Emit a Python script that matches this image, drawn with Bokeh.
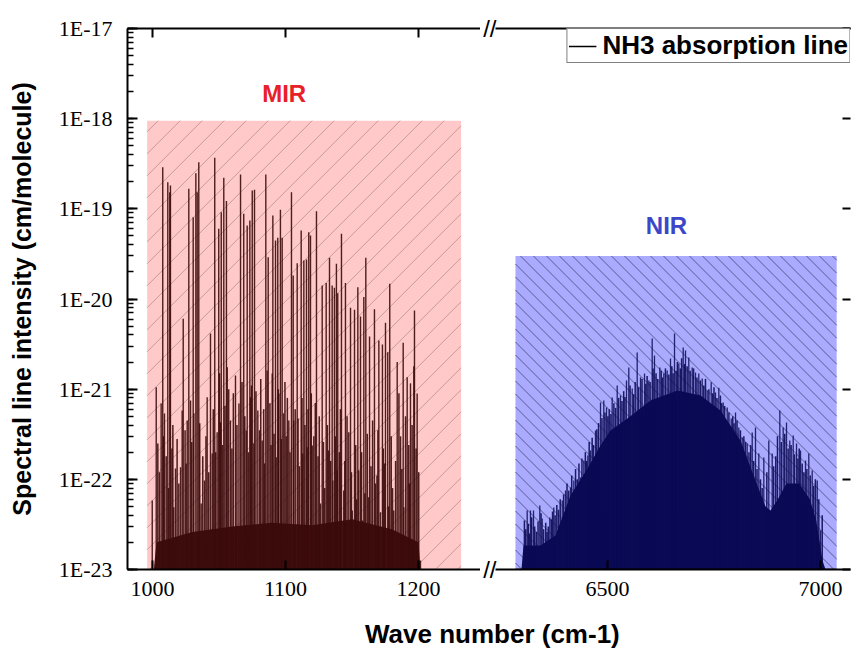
import math
from bokeh.plotting import figure
from bokeh.models import (Range1d, FixedTicker, CustomJSTickFormatter, LinearAxis, LogAxis,
                          Label, Legend, LegendItem, Div)
from bokeh.layouts import row, column
from bokeh.embed import file_html
from bokeh.resources import INLINE

# ---------------- data ----------------
Y_MIN, Y_MAX = 1e-23, 1e-17
mir_ticks = [1000, 1100, 1200]
nir_ticks = [6500, 7000]

# shaded spectral regions (wave number span, upper intensity)
mir_region = [996, 1232]
mir_region_top = 9.5e-19
nir_region = [6284, 7038]
nir_region_top = 3.0e-20

# MIR absorption lines (wave number cm-1, intensity cm/molecule) - strong lines
mir_wn = [999.8, 1002.8, 1006.5, 1007.7, 1009.0, 1011.5, 1013.0, 1013.5, 1016.0, 1017.3,
          1021.1, 1022.3, 1023.1, 1026.1, 1027.3, 1028.6, 1030.6, 1031.1, 1032.6, 1033.6,
          1034.8, 1036.6, 1039.1, 1041.1, 1043.6, 1044.9, 1046.8, 1048.6, 1049.8, 1051.1,
          1051.7, 1053.6, 1055.6, 1056.2, 1058.6, 1062.4, 1065.0, 1066.2, 1068.6, 1070.5,
          1071.2, 1073.2, 1073.7, 1075.0, 1076.2, 1076.7, 1079.2, 1082.5, 1085.2, 1086.2,
          1087.0, 1090.0, 1090.5, 1092.5, 1093.0, 1094.2, 1095.0, 1096.2, 1097.5, 1098.7,
          1102.5, 1104.5, 1105.8, 1106.2, 1108.8, 1109.5, 1111.8, 1113.0, 1113.8, 1115.8,
          1116.3, 1117.5, 1118.8, 1120.1, 1123.3, 1126.3, 1127.6, 1130.6, 1132.3, 1133.1,
          1135.1, 1135.6, 1136.8, 1138.3, 1138.9, 1139.3, 1142.1, 1143.8, 1145.1, 1147.6,
          1148.9, 1150.2, 1151.9, 1154.4, 1155.1, 1156.4, 1158.0, 1158.9, 1160.4, 1162.6,
          1163.2, 1166.9, 1167.7, 1170.2, 1171.4, 1172.9, 1174.5, 1175.2, 1176.9, 1178.4,
          1181.4, 1184.0, 1188.5, 1189.0, 1191.5, 1194.0, 1196.5, 1197.0, 1199.0, 1201.5]
mir_int = [5.82e-23, 1.05e-21, 6.93e-22, 2.90e-19, 5.37e-22, 1.97e-19, 1.53e-19, 1.82e-19, 4.91e-23, 1.32e-22,
           1.36e-22, 5.81e-22, 6.04e-21, 4.50e-22, 1.67e-19, 7.49e-22, 8.07e-20, 5.37e-22, 2.48e-19, 1.53e-19,
           3.29e-19, 5.40e-23, 9.7e-23, 8.15e-22, 4.14e-21, 1.94e-22, 3.68e-19, 3.33e-22, 6.01e-20, 4.30e-22,
           9.18e-20, 2.21e-19, 1.22e-19, 1.75e-21, 4.50e-22, 1.42e-21, 6.93e-22, 2.40e-19, 8.81e-20, 3.48e-22,
           6.53e-20, 7.43e-20, 8.15e-22, 1.60e-19, 2.50e-22, 1.63e-19, 5.81e-22, 2.70e-22, 2.40e-19, 1.61e-21,
           2.91e-20, 1.49e-21, 8.44e-20, 4.46e-20, 1.76e-22, 4.77e-20, 8.95e-22, 9.76e-20, 4.77e-20, 5.37e-22,
           4.50e-22, 1.53e-19, 1.82e-20, 4.50e-22, 2.49e-20, 4.73e-22, 5.75e-20, 1.94e-22, 2.67e-20, 2.75e-20,
           2.27e-22, 5.51e-20, 5.06e-20, 2.37e-22, 9.42e-20, 5.40e-23, 1.41e-20, 1.50e-20, 2.09e-22, 2.86e-20,
           1.41e-20, 9.7e-23, 1.33e-20, 2.46e-20, 1.25e-22, 1.16e-20, 5.29e-20, 7.52e-23, 1.50e-20, 3.33e-22,
           7.98e-21, 4.52e-23, 7.59e-21, 1.35e-20, 1.25e-22, 6.40e-21, 3.50e-23, 1.05e-20, 2.86e-20, 6.34e-23,
           3.84e-21, 7.71e-21, 9.0e-23, 3.47e-21, 4.32e-23, 3.13e-21, 1.50e-22, 5.45e-21, 2.57e-21, 1.48e-20,
           4.52e-23, 2.0e-21, 3.27e-21, 4.91e-23, 1.36e-21, 1.16e-21, 1.8e-21, 7.46e-21, 8.95e-22, 1.26e-23]

# MIR weaker lines filling the lower band
mir_weak_wn = [1004.0, 1005.2, 1008.2, 1010.3, 1012.0, 1014.6, 1015.3, 1018.5, 1019.8, 1024.5,
               1025.3, 1029.5, 1035.5, 1037.8, 1040.2, 1042.3, 1045.7, 1047.5, 1050.4, 1052.6,
               1054.5, 1057.3, 1059.7, 1060.8, 1063.5, 1067.3, 1069.4, 1072.2, 1074.4, 1077.8,
               1080.5, 1081.4, 1083.6, 1084.3, 1088.3, 1089.1, 1091.4, 1094.6, 1096.9, 1099.6,
               1100.5, 1101.4, 1103.4, 1107.3, 1110.5, 1112.4, 1114.6, 1117.0, 1119.4, 1121.3,
               1122.4, 1124.5, 1125.4, 1128.5, 1129.5, 1131.5, 1134.0, 1137.5, 1140.5, 1141.3,
               1144.6, 1146.3, 1149.6, 1152.8, 1153.5, 1157.2, 1159.7, 1161.5, 1164.3, 1165.5,
               1168.8, 1169.5, 1173.6, 1177.6, 1179.5, 1180.5, 1182.8, 1185.3, 1186.5, 1187.5,
               1190.3, 1192.7, 1193.3, 1195.2, 1198.2, 1200.2]
mir_weak_int = [2.5e-22, 1.2e-22, 3.0e-22, 1.8e-22, 8e-23, 2.2e-22, 4e-22, 2.8e-22, 9e-23, 3.5e-22,
                1.5e-22, 2.6e-22, 4.2e-22, 1.8e-22, 3.0e-22, 1.2e-22, 6e-22, 2.0e-22, 1.5e-21, 2.4e-22,
                6.5e-22, 1.0e-21, 2.2e-22, 9e-22, 4.0e-22, 1.2e-21, 5e-22, 2.0e-22, 1.1e-21, 9.5e-22,
                3.5e-22, 1.3e-21, 6e-22, 1.5e-22, 7e-22, 2.4e-22, 3.2e-22, 1.0e-21, 2.8e-22, 1.2e-21,
                3.0e-22, 8e-22, 2.0e-22, 6e-22, 1.4e-22, 8e-22, 4e-22, 6e-22, 9e-22, 3.0e-22,
                7e-22, 1.8e-22, 5e-22, 2.6e-22, 8e-23, 4e-22, 1.6e-22, 3.0e-22, 2.0e-22, 6e-22,
                1.6e-22, 5e-22, 1.2e-22, 2.4e-22, 6e-23, 2.0e-22, 7e-23, 3.2e-22, 1.4e-22, 4.5e-22,
                1.1e-22, 3.5e-22, 2.2e-22, 5e-23, 3.0e-22, 8e-23, 1.6e-22, 9e-22, 3.0e-22, 1.3e-22,
                5e-22, 2.4e-22, 9e-23, 4e-22, 2.2e-22, 1.2e-22]

# MIR weak-line continuum (upper edge of the dense dark band)
mir_base_wn = [1001.0, 1003.0, 1030.0, 1060.0, 1090.0, 1120.0, 1150.0, 1180.0, 1200.0, 1201.5]
mir_base_int = [1.0e-23, 2.0e-23, 2.6e-23, 3.0e-23, 3.3e-23, 3.1e-23, 3.6e-23, 2.8e-23, 2.0e-23, 1.0e-23]

# NIR absorption lines (strongest lines)
nir_wn = [6311.5, 6319.2, 6326.3, 6341.1, 6346.7, 6364.6, 6373.9, 6393.7, 6401.4, 6413.1,
          6420.9, 6436.6, 6444.4, 6453.8, 6460.1, 6471.8, 6483.6, 6491.3, 6497.7, 6511.0,
          6522.8, 6530.5, 6544.6, 6550.0, 6558.0, 6569.7, 6577.5, 6586.9, 6596.9, 6604.9,
          6610.3, 6622.8, 6632.2, 6640.1, 6647.9, 6657.3, 6667.4, 6677.7, 6683.1, 6690.8,
          6698.8, 6706.6, 6714.3, 6722.3, 6734.0, 6743.4, 6753.5, 6761.3, 6771.6, 6781.0,
          6790.4, 6800.5, 6808.2, 6816.2, 6827.9, 6839.7, 6847.4, 6855.2, 6866.9, 6878.6,
          6886.6, 6904.5, 6912.4, 6920.2, 6927.9, 6935.9, 6943.7, 6953.1, 6964.8, 6972.5,
          6980.5, 6992.3, 7000.0]
nir_int = [4.51e-23, 4.51e-23, 4.51e-23, 5.13e-23, 3.68e-23, 3.78e-23, 4.88e-23, 5.82e-23, 7.52e-23, 8.12e-23,
           9.7e-23, 1.05e-22, 1.62e-22, 1.84e-22, 2.09e-22, 3.48e-22, 7.11e-22, 7.49e-22, 6.27e-22, 8.09e-22,
           1.10e-21, 8.51e-22, 1.25e-21, 1.74e-21, 1.02e-21, 2.55e-21, 1.35e-21, 1.49e-21, 1.25e-21, 3.65e-21,
           2.36e-21, 1.74e-21, 1.49e-21, 1.61e-21, 2.19e-21, 4.14e-21, 1.93e-21, 2.90e-21, 2.69e-21, 2.25e-21,
           1.74e-21, 1.53e-21, 1.49e-21, 1.31e-21, 9.67e-22, 1.19e-21, 9.19e-22, 1.04e-21, 7.11e-22, 6.27e-22,
           4.73e-22, 5.51e-22, 3.76e-22, 2.91e-22, 2.50e-22, 3.31e-22, 3.76e-22, 1.94e-22, 1.75e-22, 2.70e-22,
           1.94e-22, 5.81e-22, 3.76e-22, 4.27e-22, 2.70e-22, 3.06e-22, 2.50e-22, 2.09e-22, 1.62e-22, 1.94e-22,
           1.25e-22, 9.7e-23, 2.71e-23]

# NIR medium lines (jagged top of the dense band)
nir_mid_wn = [6305, 6308, 6314, 6317, 6322, 6329, 6333, 6337, 6344, 6350,
              6355, 6358, 6361, 6368, 6371, 6377, 6381, 6385, 6389, 6397,
              6405, 6409, 6416, 6425, 6429, 6433, 6440, 6448, 6451, 6457,
              6464, 6467, 6475, 6479, 6487, 6494, 6501, 6504, 6508, 6515,
              6519, 6526, 6534, 6538, 6541, 6553, 6561, 6565, 6573, 6581,
              6590, 6593, 6600, 6607, 6614, 6618, 6626, 6629, 6636, 6644,
              6651, 6654, 6661, 6664, 6671, 6674, 6681, 6687, 6694, 6702,
              6710, 6718, 6726, 6730, 6738, 6747, 6750, 6757, 6765, 6768,
              6775, 6785, 6794, 6797, 6804, 6812, 6820, 6824, 6832, 6836,
              6843, 6851, 6859, 6863, 6874, 6890, 6895, 6899, 6908, 6916,
              6924, 6931, 6939, 6947, 6950, 6957, 6961, 6968, 6976, 6984,
              6988, 6996, 7004]
nir_mid_int = [3.5e-23, 2.8e-23, 3.2e-23, 2.5e-23, 3.8e-23, 3.0e-23, 2.6e-23, 3.4e-23, 4.2e-23, 2.8e-23,
               3.3e-23, 2.6e-23, 3.0e-23, 3.6e-23, 4.4e-23, 4.0e-23, 5.2e-23, 4.6e-23, 6.0e-23, 6.8e-23,
               9.0e-23, 7.5e-23, 1.1e-22, 1.3e-22, 1.0e-22, 1.5e-22, 1.7e-22, 2.0e-22, 1.6e-22, 2.6e-22,
               2.9e-22, 2.4e-22, 3.6e-22, 4.2e-22, 4.8e-22, 5.5e-22, 5.0e-22, 6.0e-22, 5.3e-22, 7.0e-22,
               6.2e-22, 8.0e-22, 7.4e-22, 9.5e-22, 8.2e-22, 1.1e-21, 8.8e-22, 1.2e-21, 1.05e-21, 1.3e-21,
               1.15e-21, 1.4e-21, 1.2e-21, 1.7e-21, 1.5e-21, 1.3e-21, 1.6e-21, 1.35e-21, 1.7e-21, 1.45e-21,
               1.8e-21, 1.5e-21, 1.6e-21, 2.0e-21, 1.7e-21, 2.2e-21, 1.9e-21, 1.8e-21, 1.6e-21, 1.7e-21,
               1.35e-21, 1.25e-21, 1.1e-21, 1.3e-21, 1.0e-21, 9.0e-22, 1.05e-21, 8.0e-22, 8.5e-22, 7.0e-22,
               6.5e-22, 5.5e-22, 5.0e-22, 4.2e-22, 4.5e-22, 3.5e-22, 3.0e-22, 2.6e-22, 2.0e-22, 2.4e-22,
               1.6e-22, 1.3e-22, 1.0e-22, 8.0e-23, 1.2e-22, 1.4e-22, 1.8e-22, 3.0e-22, 2.6e-22, 3.2e-22,
               2.2e-22, 2.4e-22, 1.9e-22, 1.7e-22, 2.2e-22, 1.5e-22, 1.2e-22, 1.3e-22, 1.1e-22, 8.5e-23,
               1.0e-22, 6.0e-23, 4.0e-23]

# NIR dense-band envelope (upper edge of the solid dark mass)
nir_env_wn = [6298.1, 6302.8, 6342.7, 6377.9, 6413.1, 6453.1, 6483.6, 6507.0, 6546.9, 6600.9,
              6664.3, 6718.3, 6765.3, 6812.2, 6847.4, 6870.9, 6882.6, 6900.0, 6920.0, 6950.0,
              6975.0, 6990.0, 7004.7, 7011.7]
nir_env_int = [1.0e-23, 1.85e-23, 1.85e-23, 2.38e-23, 6.62e-23, 1.32e-22, 2.37e-22, 3.48e-22, 4.73e-22, 7.49e-22,
               9.67e-22, 8.51e-22, 5.81e-22, 2.70e-22, 9.7e-23, 5.0e-23, 4.5e-23, 6.0e-23, 9.0e-23, 9.0e-23,
               6.0e-23, 3.5e-23, 1.26e-23, 1.0e-23]

break_mark = "//"
legend_label = "NH3 absorption line"
x_title = "Wave number (cm-1)"
y_title = "Spectral line intensity (cm/molecule)"

# ---------------- styling / geometry ----------------
SANS = "Liberation Sans"
SERIF = "Liberation Serif"
MIR_LINE = "#3B0A0A"
NIR_LINE = "#0A0A55"

exp_fmt = CustomJSTickFormatter(code="return '1E' + Math.round(Math.log10(tick)).toString();")
break_fmt = CustomJSTickFormatter(code="return '%s';" % break_mark)

FRAME_H = 541
TOP = 28
BOTTOM = 42
GAP = 12
FW1, FW2 = 353, 355
X1_RANGE = (981.2, 1246.64)
X2_RANGE = (6237.1, 7070.4)
DEC_PX = FRAME_H / 6.0


def hatch_segments(region, top, x_range, frame_w, spacing, forward):
    """45-degree hatch lines (in screen space) clipped to a shaded region."""
    pxu = frame_w / (x_range[1] - x_range[0])
    W = (region[1] - region[0]) * pxu
    H = (math.log10(top) - math.log10(Y_MIN)) * DEC_PX
    xa, ya_, xb, yb = [], [], [], []
    c = -H + spacing / 2 if forward else spacing / 2
    end = W if forward else W + H
    while c < end:
        if forward:
            ua, ub = max(0.0, c), min(W, H + c)
            va, vb = ua - c, ub - c
        else:
            ua, ub = max(0.0, c - H), min(W, c)
            va, vb = c - ua, c - ub
        if ub > ua:
            xa.append(region[0] + ua / pxu)
            xb.append(region[0] + ub / pxu)
            ya_.append(Y_MIN * 10 ** (va / DEC_PX))
            yb.append(Y_MIN * 10 ** (vb / DEC_PX))
        c += spacing
    return xa, ya_, xb, yb


def style_x(ax, ticks, labels=True):
    ax.ticker = FixedTicker(ticks=ticks)
    ax.axis_line_width = 2
    ax.major_tick_line_width = 2
    ax.major_tick_in = 9
    ax.major_tick_out = 0
    ax.minor_tick_line_color = None
    ax.major_label_text_font = SERIF
    if labels:
        ax.major_label_text_font_size = "22px"
        ax.major_label_text_color = "black"
        ax.major_label_standoff = 12
    else:
        ax.major_label_text_font_size = "1px"
        ax.major_label_text_color = None
        ax.major_label_standoff = 0


# ---------------- left panel (MIR) ----------------
p1 = figure(frame_width=FW1, frame_height=FRAME_H, y_axis_type="log",
            x_range=Range1d(*X1_RANGE), y_range=Range1d(Y_MIN, Y_MAX),
            min_border_left=127, min_border_right=0, min_border_top=TOP, min_border_bottom=BOTTOM,
            toolbar_location=None, output_backend="svg", outline_line_color=None,
            background_fill_color="white")
p1.grid.visible = False

p1.quad(left=mir_region[0], right=mir_region[1], bottom=Y_MIN, top=mir_region_top,
        fill_color="#FFC9C9", line_color=None)
hx0, hy0, hx1, hy1 = hatch_segments(mir_region, mir_region_top, X1_RANGE, FW1, 22, True)
p1.segment(x0=hx0, y0=hy0, x1=hx1, y1=hy1, line_color="#C69A9A", line_width=1)
p1.varea(x=mir_base_wn, y1=[Y_MIN] * len(mir_base_wn), y2=mir_base_int, fill_color=MIR_LINE, fill_alpha=0.95)
p1.segment(x0=mir_weak_wn, y0=[Y_MIN] * len(mir_weak_wn), x1=mir_weak_wn, y1=mir_weak_int,
           line_color=MIR_LINE, line_width=1.5, line_alpha=0.9)
p1.segment(x0=mir_wn, y0=[Y_MIN] * len(mir_wn), x1=mir_wn, y1=mir_int,
           line_color=MIR_LINE, line_width=1.4, line_alpha=0.9)

style_x(p1.xaxis[0], mir_ticks)
top1 = LinearAxis()
style_x(top1, mir_ticks, labels=False)
p1.add_layout(top1, "above")

ya = p1.yaxis[0]
ya.formatter = exp_fmt
ya.axis_line_width = 2
ya.major_tick_line_width = 2
ya.major_tick_in = 10
ya.major_tick_out = 0
ya.minor_tick_in = 6
ya.minor_tick_out = 0
ya.minor_tick_line_width = 1.5
ya.major_label_text_font = SERIF
ya.major_label_text_font_size = "22px"
ya.major_label_text_color = "black"
ya.major_label_standoff = 15
ya.axis_label = y_title
ya.axis_label_text_font = SANS
ya.axis_label_text_font_size = "25px"
ya.axis_label_text_font_style = "bold"
ya.axis_label_text_color = "black"
ya.axis_label_standoff = 20

p1.add_layout(Label(x=1099, y=1.9e-18, text="MIR", text_align="center", text_baseline="middle",
                    text_font=SANS, text_font_size="24px", text_font_style="bold",
                    text_color="#E8202A"))

# ---------------- right panel (NIR) ----------------
p2 = figure(frame_width=FW2, frame_height=FRAME_H, y_axis_type="log", y_axis_location="right",
            x_range=Range1d(*X2_RANGE), y_range=Range1d(Y_MIN, Y_MAX),
            min_border_left=GAP, min_border_right=0, min_border_top=TOP, min_border_bottom=BOTTOM,
            toolbar_location=None, output_backend="svg", outline_line_color=None,
            background_fill_color="white")
p2.grid.visible = False

p2.quad(left=nir_region[0], right=nir_region[1], bottom=Y_MIN, top=nir_region_top,
        fill_color="#AAAAFF", line_color=None)
gx0, gy0, gx1, gy1 = hatch_segments(nir_region, nir_region_top, X2_RANGE, FW2, 13, False)
p2.segment(x0=gx0, y0=gy0, x1=gx1, y1=gy1, line_color="#5A5A90", line_width=1)
p2.varea(x=nir_env_wn, y1=[Y_MIN] * len(nir_env_wn), y2=nir_env_int, fill_color=NIR_LINE, fill_alpha=1.0)
p2.segment(x0=nir_mid_wn, y0=[Y_MIN] * len(nir_mid_wn), x1=nir_mid_wn, y1=nir_mid_int,
           line_color=NIR_LINE, line_width=1.5, line_alpha=0.9)
p2.segment(x0=nir_wn, y0=[Y_MIN] * len(nir_wn), x1=nir_wn, y1=nir_int,
           line_color=NIR_LINE, line_width=1.3, line_alpha=0.85)

style_x(p2.xaxis[0], nir_ticks)
top2 = LinearAxis()
style_x(top2, nir_ticks, labels=False)
p2.add_layout(top2, "above")

yr = p2.yaxis[0]
yr.axis_line_color = None
yr.major_tick_line_width = 2
yr.major_tick_in = 8
yr.major_tick_out = 0
yr.minor_tick_line_color = None
yr.major_label_text_font_size = "1px"
yr.major_label_text_color = None
yr.major_label_standoff = 0

# axis-break marks: labels of a line-less axis in the gap, at the two ends of the y range
brk = LogAxis(ticker=FixedTicker(ticks=[Y_MIN, Y_MAX]), formatter=break_fmt,
              axis_line_color=None, major_tick_line_color=None, minor_tick_line_color=None,
              major_tick_in=0, major_tick_out=0, major_label_standoff=-1,
              major_label_text_font=SANS, major_label_text_font_size="24px",
              major_label_text_color="black")
p2.add_layout(brk, "left")

p2.add_layout(Label(x=6638.5, y=6.5e-20, text="NIR", text_align="center", text_baseline="middle",
                    text_font=SANS, text_font_size="24px", text_font_style="bold",
                    text_color="#3C46C8"))

# legend key: a black line lying on the bottom axis (hidden under it)
leg_r = p2.line(x=nir_region, y=[Y_MIN, Y_MIN], line_color="black", line_width=1.5)
legend = Legend(items=[LegendItem(label=legend_label, renderers=[leg_r])], location="top_right",
                margin=0, padding=1, spacing=0, label_standoff=6, glyph_width=28, glyph_height=24,
                border_line_color="black", border_line_width=1.5, background_fill_alpha=1.0,
                label_text_font=SANS, label_text_font_size="26px", label_text_font_style="bold",
                label_text_color="black")
p2.add_layout(legend)

xlab = Div(text=(f'<div style="margin-left:360px; font-family:\'Liberation Sans\'; font-weight:bold; '
                 f'font-size:26px; line-height:36px; color:black; white-space:nowrap;">{x_title}</div>'),
           width=840, height=36)

layout = column(row(p1, p2), xlab)
open("out.html", "w").write(file_html(layout, INLINE))
